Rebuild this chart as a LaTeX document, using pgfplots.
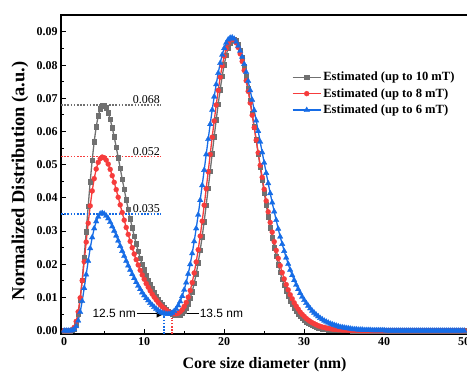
\documentclass[border=0pt]{standalone}
\usepackage{pgfplots}
\pgfplotsset{compat=1.18}
\usepackage{pgfplotstable}
\usepackage{fontspec}
\setmainfont{Liberation Serif}
\newfontfamily\arialfont{Liberation Sans}
\usetikzlibrary{arrows.meta}
\definecolor{cg}{RGB}{112,112,112}
\definecolor{cr}{RGB}{246,60,60}
\definecolor{cb}{RGB}{22,108,230}

\pgfplotstableread{
x g r b
0 0 0 0
0.25 0 0 0
0.5 0 0 0
0.75 0 0 0
1 0.0001 0.0003 0.0001
1.25 0.0007 0.0010 0.0004
1.5 0.0021 0.0028 0.0013
1.75 0.0050 0.0057 0.0030
2 0.0094 0.0099 0.0056
2.25 0.0152 0.0151 0.0089
2.5 0.0222 0.0208 0.0128
2.75 0.0298 0.0267 0.0169
3 0.0375 0.0324 0.0210
3.25 0.0449 0.0376 0.0248
3.5 0.0514 0.0421 0.0281
3.75 0.0570 0.0458 0.0308
4 0.0614 0.0487 0.0329
4.25 0.0647 0.0507 0.0343
4.5 0.0668 0.0518 0.0352
4.75 0.0678 0.0523 0.0354
5 0.0679 0.0521 0.0352
5.25 0.0672 0.0514 0.0346
5.5 0.0657 0.0502 0.0338
5.75 0.0637 0.0486 0.0327
6 0.0612 0.0467 0.0314
6.25 0.0584 0.0447 0.0301
6.5 0.0553 0.0425 0.0286
6.75 0.0522 0.0402 0.0271
7 0.0490 0.0379 0.0255
7.25 0.0457 0.0356 0.0240
7.5 0.0426 0.0333 0.0225
7.75 0.0395 0.0311 0.0210
8 0.0366 0.0290 0.0196
8.25 0.0337 0.0269 0.0183
8.5 0.0311 0.0250 0.0170
8.75 0.0285 0.0231 0.0158
9 0.0262 0.0214 0.0146
9.25 0.0240 0.0198 0.0135
9.5 0.0219 0.0182 0.0125
9.75 0.0200 0.0168 0.0115
10 0.0183 0.0155 0.0106
10.25 0.0167 0.0142 0.0098
10.5 0.0152 0.0131 0.0091
10.75 0.0138 0.0120 0.0083
11 0.0126 0.0110 0.0077
11.25 0.0114 0.0101 0.0071
11.5 0.0104 0.0093 0.0066
11.75 0.0094 0.0085 0.0061
12 0.0086 0.0078 0.0057
12.25 0.0078 0.0072 0.0054
12.5 0.0071 0.0067 0.0052
12.75 0.0065 0.0062 0.0050
13 0.0059 0.0057 0.0050
13.25 0.0055 0.0054 0.0051
13.5 0.0051 0.0052 0.0054
13.75 0.0049 0.0051 0.0059
14 0.0047 0.0051 0.0066
14.25 0.0047 0.0053 0.0076
14.5 0.0049 0.0057 0.0088
14.75 0.0053 0.0063 0.0104
15 0.0060 0.0073 0.0123
15.25 0.0069 0.0085 0.0145
15.5 0.0081 0.0101 0.0171
15.75 0.0098 0.0121 0.0200
16 0.0118 0.0145 0.0233
16.25 0.0143 0.0174 0.0269
16.5 0.0171 0.0207 0.0308
16.75 0.0205 0.0244 0.0349
17 0.0242 0.0285 0.0393
17.25 0.0284 0.0330 0.0438
17.5 0.0329 0.0378 0.0484
17.75 0.0378 0.0428 0.0531
18 0.0429 0.0479 0.0577
18.25 0.0481 0.0531 0.0622
18.5 0.0533 0.0583 0.0665
18.75 0.0585 0.0632 0.0705
19 0.0635 0.0680 0.0742
19.25 0.0683 0.0724 0.0776
19.5 0.0727 0.0764 0.0806
19.75 0.0767 0.0798 0.0831
20 0.0801 0.0827 0.0851
20.25 0.0830 0.0850 0.0867
20.5 0.0852 0.0866 0.0877
20.75 0.0867 0.0876 0.0882
21 0.0876 0.0879 0.0883
21.25 0.0878 0.0876 0.0879
21.5 0.0873 0.0867 0.0870
21.75 0.0862 0.0853 0.0858
22 0.0845 0.0834 0.0843
22.25 0.0823 0.0811 0.0825
22.5 0.0796 0.0784 0.0803
22.75 0.0765 0.0753 0.0779
23 0.0731 0.0721 0.0752
23.25 0.0694 0.0686 0.0724
23.5 0.0655 0.0649 0.0695
23.75 0.0615 0.0612 0.0664
24 0.0575 0.0574 0.0633
24.25 0.0534 0.0536 0.0601
24.5 0.0493 0.0498 0.0569
24.75 0.0454 0.0462 0.0537
25 0.0416 0.0426 0.0506
25.25 0.0379 0.0391 0.0475
25.5 0.0344 0.0358 0.0444
25.75 0.0311 0.0326 0.0414
26 0.0280 0.0297 0.0386
26.25 0.0250 0.0268 0.0359
26.5 0.0224 0.0242 0.0333
26.75 0.0199 0.0218 0.0307
27 0.0176 0.0196 0.0283
27.25 0.0155 0.0175 0.0261
27.5 0.0137 0.0156 0.0240
27.75 0.0120 0.0139 0.0220
28 0.0105 0.0123 0.0201
28.25 0.0091 0.0108 0.0183
28.5 0.0080 0.0096 0.0167
28.75 0.0069 0.0084 0.0152
29 0.0059 0.0074 0.0138
29.25 0.0051 0.0065 0.0125
29.5 0.0044 0.0056 0.0113
29.75 0.0038 0.0049 0.0102
30 0.0032 0.0043 0.0092
30.25 0.0027 0.0037 0.0083
30.5 0.0023 0.0032 0.0075
30.75 0.0020 0.0028 0.0067
31 0.0017 0.0024 0.0060
31.25 0.0014 0.0021 0.0054
31.5 0.0012 0.0018 0.0048
31.75 0.0010 0.0015 0.0043
32 0.0009 0.0013 0.0038
32.25 0.0007 0.0011 0.0034
32.5 0.0006 0.0010 0.0030
32.75 0.0005 0.0008 0.0027
33 0.0004 0.0007 0.0024
33.25 0.0003 0.0006 0.0021
33.5 0.0003 0.0005 0.0019
33.75 0.0002 0.0004 0.0017
34 0.0002 0.0004 0.0015
34.25 0.0002 0.0003 0.0013
34.5 0.0001 0.0003 0.0011
34.75 0.0001 0.0002 0.0010
35 0.0001 0.0002 0.0009
35.25 0.0001 0.0002 0.0008
35.5 0.0001 0.0001 0.0007
35.75 0.0001 0.0001 0.0006
36 0 0.0001 0.0005
36.25 0 0.0001 0.0004
36.5 0 0.0001 0.0004
36.75 0 0.0001 0.0003
37 0 0 0.0003
37.25 0 0 0.0003
37.5 0 0 0.0002
37.75 0 0 0.0002
38 0 0 0.0002
38.25 0 0 0.0002
38.5 0 0 0.0001
38.75 0 0 0.0001
39 0 0 0.0001
39.25 0 0 0.0001
39.5 0 0 0.0001
39.75 0 0 0.0001
40 0 0 0.0001
40.25 0 0 0
40.5 0 0 0
40.75 0 0 0
41 0 0 0
41.25 0 0 0
41.5 0 0 0
41.75 0 0 0
42 0 0 0
42.25 0 0 0
42.5 0 0 0
42.75 0 0 0
43 0 0 0
43.25 0 0 0
43.5 0 0 0
43.75 0 0 0
44 0 0 0
44.25 0 0 0
44.5 0 0 0
44.75 0 0 0
45 0 0 0
45.25 0 0 0
45.5 0 0 0
45.75 0 0 0
46 0 0 0
46.25 0 0 0
46.5 0 0 0
46.75 0 0 0
47 0 0 0
47.25 0 0 0
47.5 0 0 0
47.75 0 0 0
48 0 0 0
48.25 0 0 0
48.5 0 0 0
48.75 0 0 0
49 0 0 0
49.25 0 0 0
49.5 0 0 0
49.75 0 0 0
50 0 0 0
}\datatable

\begin{document}
\begin{tikzpicture}
\begin{axis}[
  scale only axis, width=407.2bp, height=319bp,
  xmin=-0.4, xmax=50.5, ymin=-0.001, ymax=0.0951,
  xtick={0,10,20,30,40,50},
  ytick={0,0.01,0.02,0.03,0.04,0.05,0.06,0.07,0.08,0.09},
  minor x tick num=1, minor y tick num=1,
  tick align=inside, xtick pos=left, ytick pos=left,
  major tick length=5bp, minor tick length=3bp,
  axis line style={line width=1.1bp},
  every tick/.style={black, line width=1bp},
  scaled y ticks=false,
  yticklabel style={/pgf/number format/fixed, /pgf/number format/fixed zerofill, /pgf/number format/precision=2},
  /pgf/number format/assume math mode=true,
  ticklabel style={font=\bfseries\fontsize{12}{14}\selectfont},
  xlabel={Core size diameter (nm)},
  ylabel={Normalized Distribution (a.u.)},
  xlabel style={font=\bfseries\fontsize{16}{19}\selectfont, at={(axis description cs:0.5,-0.097)}, anchor=center},
  ylabel style={font=\bfseries\fontsize{18.5}{22}\selectfont, at={(axis description cs:-0.1007,0.48)}, anchor=center},
  legend style={at={(axis description cs:0.567,0.828)}, anchor=north west, draw=none, fill=none,
    font=\bfseries\fontsize{12.6}{15}\selectfont, inner sep=0bp, row sep=2.3bp},
  legend cell align=left,
  legend image code/.code={\draw[mark repeat=2,mark phase=2] plot coordinates {(0bp,0bp) (14bp,0bp) (28bp,0bp)};},
]
\addplot[cg, line width=1.3bp, mark=square*, mark size=2.3bp, mark options={solid, fill=cg, draw=cg, line width=0.3bp}] table[x=x,y=g] {\datatable};
\addlegendentry{Estimated (up to 10 mT)}
\addplot[cr, line width=1.3bp, mark=*, mark size=2.5bp, mark options={solid, fill=cr, draw=cr, line width=0.3bp}] table[x=x,y=r] {\datatable};
\addlegendentry{Estimated (up to 8 mT)}
\addplot[cb, line width=1.3bp, mark=triangle*, mark size=3.2bp, mark options={solid, fill=cb, draw=cb, line width=0.3bp}] table[x=x,y=b] {\datatable};
\addlegendentry{Estimated (up to 6 mT)}

\addplot[forget plot, cg, line width=1.5bp, dash pattern=on 1.6bp off 1.6bp] coordinates {(-0.4,0.068) (12.1,0.068)};
\addplot[forget plot, cr, line width=1.5bp, dash pattern=on 1.6bp off 1.6bp] coordinates {(-0.4,0.0524) (12.1,0.0524)};
\addplot[forget plot, cb, line width=1.5bp, dash pattern=on 1.6bp off 1.6bp] coordinates {(-0.4,0.0351) (12.1,0.0351)};
\addplot[forget plot, cb, line width=1.5bp, dash pattern=on 1.6bp off 1.6bp] coordinates {(12.5,-0.001) (12.5,0.0047)};
\addplot[forget plot, cr, line width=1.5bp, dash pattern=on 1.6bp off 1.6bp] coordinates {(13.5,-0.001) (13.5,0.0039)};

\node[anchor=south east, inner sep=1bp, font=\fontsize{12}{14}\selectfont] at (axis cs:12.1,0.068) {0.068};
\node[anchor=south east, inner sep=1bp, font=\fontsize{12}{14}\selectfont] at (axis cs:12.1,0.0524) {0.052};
\node[anchor=south east, inner sep=1bp, font=\fontsize{12}{14}\selectfont] at (axis cs:12.1,0.0351) {0.035};

\draw[-{Latex[length=10bp,width=9bp]}, line width=1.6bp, black] (axis cs:9.1,0.0052) -- (axis cs:12.8,0.0052);
\draw[-{Latex[length=10bp,width=9bp]}, line width=1.6bp, black] (axis cs:16.8,0.0052) -- (axis cs:13.5,0.0052);
\node[anchor=east, inner sep=1bp, font=\arialfont\fontsize{12}{14}\selectfont] at (axis cs:9.1,0.0052) {12.5 nm};
\node[anchor=west, inner sep=1bp, font=\arialfont\fontsize{12}{14}\selectfont] at (axis cs:16.8,0.0052) {13.5 nm};

\coordinate (BL) at (rel axis cs:0,0);
\coordinate (TR) at (rel axis cs:1,1);
\end{axis}
\pgfresetboundingbox
\useasboundingbox ([shift={(-61bp,-40bp)}]BL) rectangle ([shift={(-1.2bp,15bp)}]TR);
\end{tikzpicture}
\end{document}
